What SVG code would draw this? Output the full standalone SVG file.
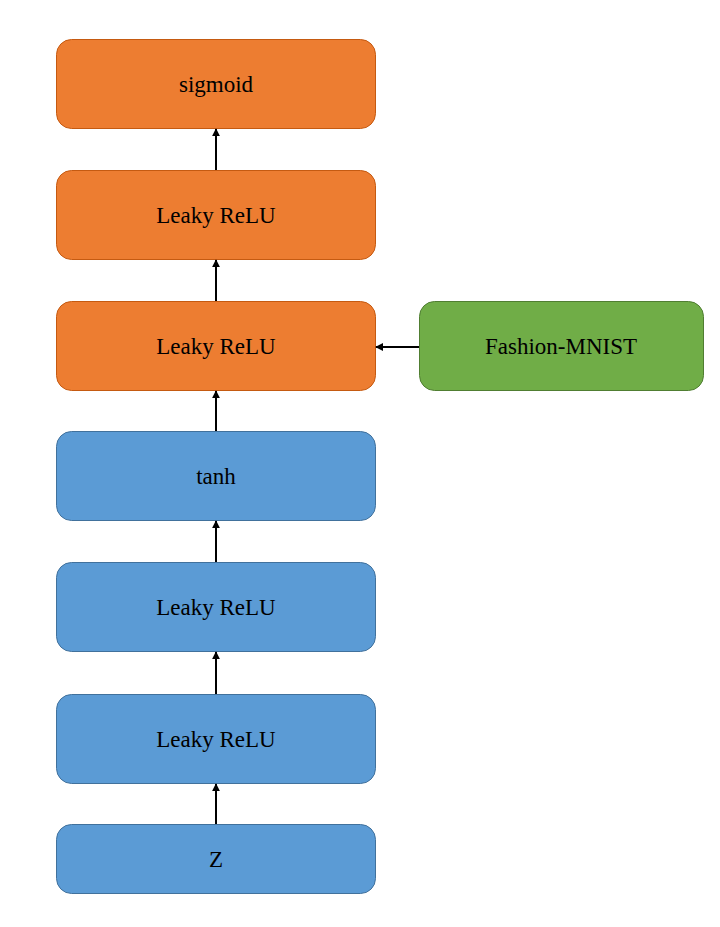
<svg xmlns="http://www.w3.org/2000/svg" width="720" height="927" viewBox="0 0 720 927">
<style>
.o{fill:#ED7D31;stroke:#C55A11;stroke-width:1}
.b{fill:#5B9BD5;stroke:#41719C;stroke-width:1}
.g{fill:#70AD47;stroke:#507E32;stroke-width:1}
text{font-family:"Liberation Serif","Times New Roman",serif;font-size:23px;fill:#000;text-anchor:middle}
.c line{stroke:#000;stroke-width:2;marker-end:url(#ah)}
</style>
<defs>
<marker id="ah" viewBox="0 0 10 10" refX="9" refY="5" markerWidth="4" markerHeight="4" orient="auto" markerUnits="strokeWidth">
<path d="M0,0 L10,5 L0,10 Z" fill="#000"/>
</marker>
</defs>
<rect width="720" height="927" fill="#fff"/>
<g id="sigmoid"><rect class="o" x="56.5" y="39.5" width="319" height="89" rx="15"/><text x="216" y="92">sigmoid</text></g>
<g id="lrelu4"><rect class="o" x="56.5" y="170.5" width="319" height="89" rx="15"/><text x="216" y="223">Leaky ReLU</text></g>
<g id="lrelu3"><rect class="o" x="56.5" y="301.5" width="319" height="89" rx="15"/><text x="216" y="354">Leaky ReLU</text></g>
<g id="fashion"><rect class="g" x="419.5" y="301.5" width="284" height="89" rx="15"/><text x="561" y="354">Fashion-MNIST</text></g>
<g id="tanh"><rect class="b" x="56.5" y="431.5" width="319" height="89" rx="15"/><text x="216" y="484">tanh</text></g>
<g id="lrelu2"><rect class="b" x="56.5" y="562.5" width="319" height="89" rx="15"/><text x="216" y="615">Leaky ReLU</text></g>
<g id="lrelu1"><rect class="b" x="56.5" y="694.5" width="319" height="89" rx="15"/><text x="216" y="747">Leaky ReLU</text></g>
<g id="z"><rect class="b" x="56.5" y="824.5" width="319" height="69" rx="15"/><text x="216" y="867">Z</text></g>
<g class="c" id="connectors">
<line x1="216" y1="170" x2="216" y2="129"/>
<line x1="216" y1="301" x2="216" y2="260"/>
<line x1="216" y1="431" x2="216" y2="391"/>
<line x1="216" y1="562" x2="216" y2="521"/>
<line x1="216" y1="694" x2="216" y2="652"/>
<line x1="216" y1="824" x2="216" y2="784"/>
<line x1="419" y1="347" x2="376" y2="347"/>
</g>
</svg>
